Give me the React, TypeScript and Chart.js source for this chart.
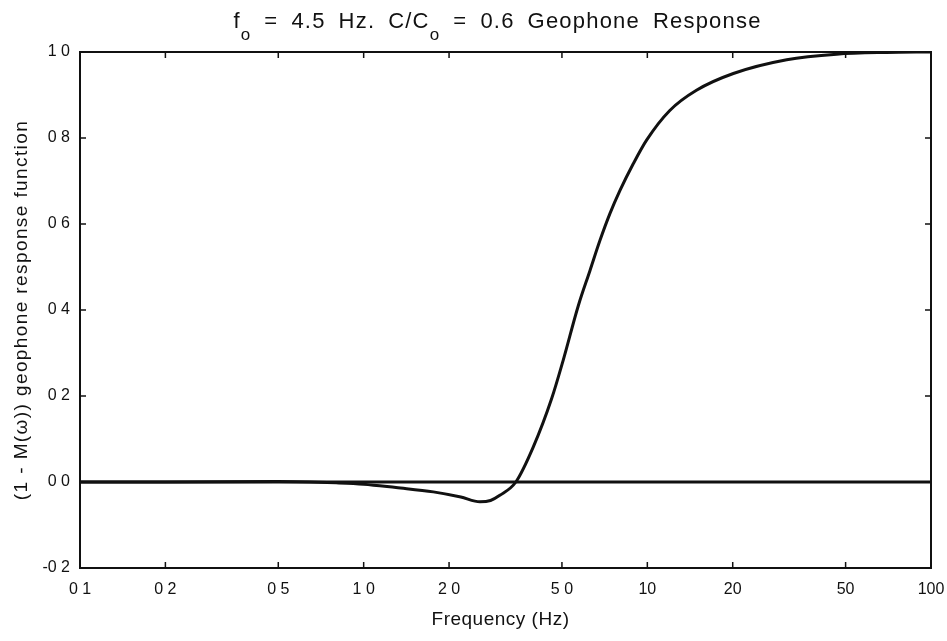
import React, { useEffect, useRef } from "react";
import { Chart, registerables } from "chart.js";

Chart.register(...registerables);

// ---- data ----
const freqHz = [0.1, 0.2, 0.5, 0.8, 1.0, 1.3, 1.76, 2.2, 2.57, 2.8, 3.02, 3.44, 3.96, 4.6, 5.05, 5.71, 6.28, 6.81, 7.38, 8.01, 8.92, 9.94, 12.0, 14.9, 20.1, 31.0, 46.5, 69.7, 100];
const response = [0, 0, 0.001, -0.002, -0.005, -0.013, -0.023, -0.035, -0.046, -0.043, -0.031, 0, 0.081, 0.194, 0.283, 0.41, 0.492, 0.562, 0.624, 0.678, 0.74, 0.795, 0.864, 0.911, 0.95, 0.982, 0.995, 0.999, 1.0];
const zeroLineX = [0.1, 100];
const zeroLineY = [0, 0];
const xTickValues = [0.1, 0.2, 0.5, 1, 2, 5, 10, 20, 50, 100];
const xTickLabels = ["0 1", "0 2", "0 5", "1 0", "2 0", "5 0", "10", "20", "50", "100"];
const yTickLabels = ["-0 2", "0 0", "0 2", "0 4", "0 6", "0 8", "1 0"];
const xAxisTitle = "Frequency (Hz)";
const yAxisTitle = "(1 - M(\u03c9)) geophone response function";
// title words; each word is a list of [text, isSubscript] pieces
const titleWords: [string, boolean][][] = [
  [["f", false], ["o", true]],
  [["=", false]],
  [["4.5", false]],
  [["Hz.", false]],
  [["C/C", false], ["o", true]],
  [["=", false]],
  [["0.6", false]],
  [["Geophone", false]],
  [["Response", false]],
];

const FONT = "'Liberation Sans', Arial, Helvetica, sans-serif";

function setFont(ctx: any, size: number, letter: number) {
  ctx.font = `${size}px ${FONT}`;
  ctx.letterSpacing = `${letter}px`;
}

const decorPlugin = {
  id: "decor",
  afterDraw(chart: any) {
    const { ctx, chartArea } = chart;
    const { left, right, top, bottom } = chartArea;
    const xs = chart.scales.x;
    const ys = chart.scales.y;
    const cx = (left + right) / 2;
    const cy = (top + bottom) / 2;
    ctx.save();
    ctx.strokeStyle = "#111";
    ctx.lineWidth = 2;
    ctx.strokeRect(left, top, right - left, bottom - top);
    // inward tick marks
    ctx.lineWidth = 1.5;
    const tl = 6;
    ctx.beginPath();
    xTickValues.forEach((v) => {
      const px = xs.getPixelForValue(v);
      ctx.moveTo(px, bottom);
      ctx.lineTo(px, bottom - tl);
      ctx.moveTo(px, top);
      ctx.lineTo(px, top + tl);
    });
    ys.ticks.forEach((t: any) => {
      const py = ys.getPixelForValue(t.value);
      ctx.moveTo(left, py);
      ctx.lineTo(left + tl, py);
      ctx.moveTo(right, py);
      ctx.lineTo(right - tl, py);
    });
    ctx.stroke();

    // title with subscripts, laid out word by word
    ctx.fillStyle = "#111";
    ctx.textBaseline = "alphabetic";
    ctx.textAlign = "left";
    const mainSize = 22;
    const subSize = 17;
    const gap = 13;
    const ls = 1.2;
    const widths = titleWords.map((w) =>
      w.reduce((s, [t, sub]) => {
        setFont(ctx, sub ? subSize : mainSize, ls);
        return s + ctx.measureText(t).width;
      }, 0)
    );
    const total = widths.reduce((a, b) => a + b, 0) + gap * (titleWords.length - 1);
    let x = cx - 8 - total / 2;
    titleWords.forEach((w, wi) => {
      let xx = x;
      w.forEach(([t, sub]) => {
        setFont(ctx, sub ? subSize : mainSize, ls);
        ctx.fillText(t, xx, sub ? 40 : 28);
        xx += ctx.measureText(t).width;
      });
      x += widths[wi] + gap;
    });

    // x axis title
    setFont(ctx, 19, 0.5);
    ctx.textAlign = "center";
    ctx.fillText(xAxisTitle, cx - 5, 625);

    // y axis title
    ctx.save();
    ctx.translate(27, cy);
    ctx.rotate(-Math.PI / 2);
    setFont(ctx, 19, 1.4);
    ctx.textAlign = "center";
    ctx.fillText(yAxisTitle, 0, 0);
    ctx.restore();
    ctx.restore();
  },
};

export default function App() {
  const ref = useRef<HTMLCanvasElement | null>(null);
  useEffect(() => {
    if (!ref.current) return;
    const chart = new Chart(ref.current, {
      type: "line",
      data: {
        datasets: [
          {
            data: zeroLineX.map((x, i) => ({ x, y: zeroLineY[i] })),
            borderColor: "#111",
            borderWidth: 3,
            pointRadius: 0,
          },
          {
            data: freqHz.map((x, i) => ({ x, y: response[i] })),
            borderColor: "#111",
            borderWidth: 3,
            pointRadius: 0,
            cubicInterpolationMode: "monotone",
          },
        ],
      },
      options: {
        animation: false,
        responsive: false,
        layout: { padding: { left: 0, top: 52, right: 16, bottom: 0 } },
        plugins: { legend: { display: false }, tooltip: { enabled: false }, title: { display: false } },
        scales: {
          x: {
            type: "logarithmic",
            min: 0.1,
            max: 100,
            grid: { display: false, drawTicks: false },
            border: { display: false },
            afterBuildTicks: (scale: any) => {
              scale.ticks = xTickValues.map((v) => ({ value: v }));
            },
            afterFit: (scale: any) => {
              scale.height = 73;
              scale.paddingLeft = 0;
              scale.paddingRight = 0;
            },
            ticks: {
              autoSkip: false,
              maxRotation: 0,
              padding: 12,
              color: "#111",
              font: { family: FONT, size: 16 },
              callback: (_v: any, i: number) => xTickLabels[i],
            },
          },
          y: {
            min: -0.2,
            max: 1.0,
            grid: { display: false, drawTicks: false },
            border: { display: false },
            afterFit: (scale: any) => {
              scale.width = 80;
              scale.paddingTop = 0;
              scale.paddingBottom = 0;
            },
            ticks: {
              stepSize: 0.2,
              padding: 10,
              color: "#111",
              font: { family: FONT, size: 16 },
              callback: (_v: any, i: number) => yTickLabels[i],
            },
          },
        },
      },
      plugins: [decorPlugin],
    } as any);
    return () => chart.destroy();
  }, []);
  return (
    <div style={{ position: "absolute", left: 0, top: 0, width: 947, height: 641, background: "#fff" }}>
      <canvas ref={ref} width={947} height={641} />
    </div>
  );
}
